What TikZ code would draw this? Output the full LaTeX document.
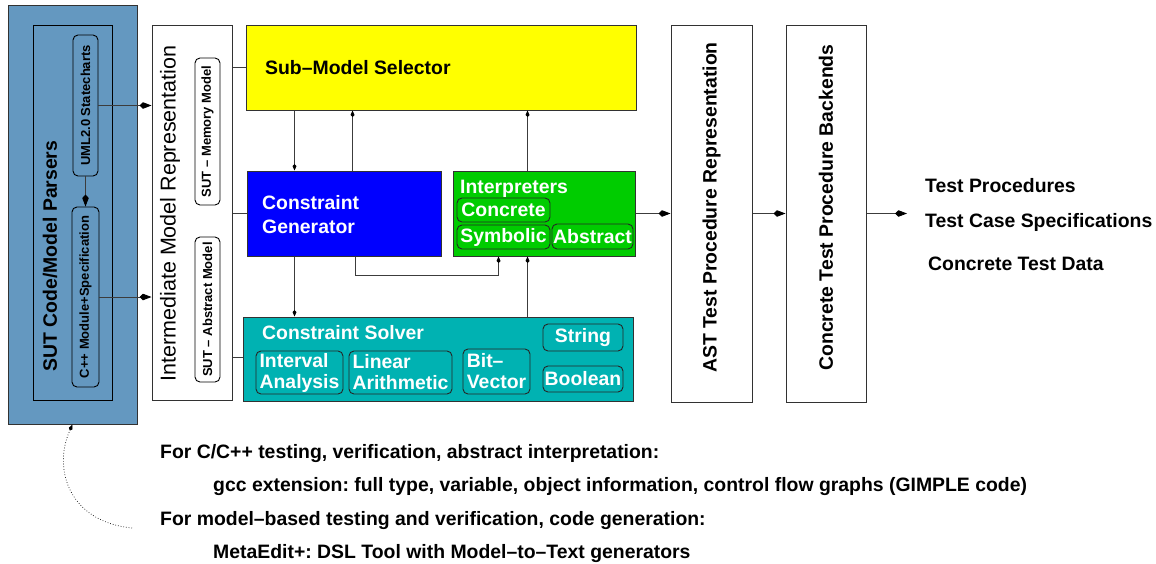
\documentclass[tikz,border=0pt]{standalone}
\usepackage{fontspec}
\setmainfont{Liberation Sans}
\usetikzlibrary{arrows.meta,calc}
\definecolor{parsblue}{RGB}{100,152,192}
\definecolor{selyellow}{RGB}{255,255,0}
\definecolor{genblue}{RGB}{0,0,255}
\definecolor{intgreen}{RGB}{0,204,0}
\definecolor{solteal}{RGB}{0,178,178}
\definecolor{edge}{RGB}{50,50,50}
\definecolor{conn}{RGB}{60,60,60}
\begin{document}
\frenchspacing
\begin{tikzpicture}[x=1pt,y=-1pt,
  font=\fontsize{19.4pt}{21pt}\selectfont\bfseries,
  box/.style={draw=edge, line width=1pt, inner sep=0pt, rectangle},
  sub/.style={draw=black!85, line width=0.9pt, rounded corners=5pt, inner sep=0pt, text=white, align=left},
  small/.style={draw=black, line width=0.9pt, rounded corners=5pt, inner sep=0pt, font=\fontsize{13pt}{14pt}\selectfont\bfseries},
  lbl/.style={anchor=west, inner sep=0pt, text height=13.9pt, text depth=0pt},
  wlbl/.style={lbl, text=white},
  vlbl/.style={rotate=90, inner sep=0pt, anchor=center},
  link/.style={draw=conn, line width=0.9pt},
  bigarr/.style={link, -{Kite[length=12pt,width=6.5pt,inset=3.5pt,color=black]}},
  smallarr/.style={link, -{Kite[length=6.5pt,width=4pt,inset=2pt,color=black]}}
]
\useasboundingbox (0,0) rectangle (1156,563);

% left parsers column
\node[box, fill=parsblue, minimum width=129pt, minimum height=419pt] (outer) at (72.5,214.5) {};
\node[draw=black, line width=0.9pt, inner sep=0pt, minimum width=79pt, minimum height=375pt] (inner) at (72.5,212.5) {};
\node[vlbl] (parstxt) at (50,256) {SUT Code/Model Parsers};
\node[small, minimum width=25pt, minimum height=141pt] (uml) at (85.5,105.5) {\rotatebox{90}{UML2.0 Statecharts}};
\node[small, minimum width=27pt, minimum height=180pt] (cpp) at (85.5,297) {\rotatebox{90}{C++ Module+Specification}};

% intermediate model representation
\node[box, fill=white, minimum width=80pt, minimum height=375pt] (imr) at (192,212.5) {};
\node[vlbl, font=\fontsize{21.5pt}{23pt}\selectfont] (imrtxt) at (170,213.5) {Intermediate Model Representation};
\node[small, minimum width=25pt, minimum height=147pt] (mem) at (207.5,131.5) {\rotatebox{90}{SUT -- Memory Model}};
\node[small, minimum width=25pt, minimum height=145pt] (abs) at (207.5,309.5) {\rotatebox{90}{SUT -- Abstract Model}};

% central boxes
\node[box, fill=selyellow, minimum width=390pt, minimum height=85pt] (sel) at (441,67.5) {};
\node[lbl] (seltxt) at (265,68) {Sub--Model Selector};

\node[box, fill=genblue, minimum width=194pt, minimum height=85pt] (gen) at (344,213.5) {};
\node[wlbl] (gent1) at (262,203) {Constraint};
\node[wlbl] (gent2) at (262,227) {Generator};

\node[box, fill=intgreen, minimum width=182pt, minimum height=85pt] (interp) at (544,213.5) {};
\node[wlbl] (intt) at (460,187) {Interpreters};
\node[sub, minimum width=93pt, minimum height=24pt] (conc) at (503.5,210) {Concrete};
\node[sub, minimum width=93pt, minimum height=24pt] (symb) at (503.5,237) {Symbolic};
\node[sub, minimum width=81pt, minimum height=25pt] (abst) at (592.5,236.5) {Abstract};

\node[box, fill=solteal, minimum width=390pt, minimum height=84pt] (solver) at (438,359) {};
\node[wlbl] (solt) at (262,333) {Constraint Solver};
\node[sub, minimum width=87pt, minimum height=43pt] (ival) at (299.5,372.5) {Interval\\Analysis};
\node[sub, minimum width=103pt, minimum height=43pt] (lin) at (400.5,372.5) {Linear\\Arithmetic};
\node[sub, minimum width=67pt, minimum height=45pt] (bitv) at (496.5,371.5) {Bit--\\Vector};
\node[sub, minimum width=80pt, minimum height=27pt] (str) at (583,337.5) {String};
\node[sub, minimum width=80pt, minimum height=26pt] (bool) at (583,379) {Boolean};

% right columns
\node[box, fill=white, minimum width=81pt, minimum height=377pt] (ast) at (711.5,213.5) {};
\node[vlbl] (asttxt) at (711.5,207.5) {AST Test Procedure Representation};
\node[box, fill=white, minimum width=80pt, minimum height=377pt] (cbe) at (826,213.5) {};
\node[vlbl] (cbetxt) at (826,207.5) {Concrete Test Procedure Backends};

\coordinate (outc) at (907,213.5);
\node[lbl] (o1) at (925,186) {Test Procedures};
\node[lbl] (o2) at (925,221) {Test Case Specifications};
\node[lbl] (o3) at (928,264) {Concrete Test Data};

% connectors
\draw[bigarr] (uml.south) -- (cpp.north);
\draw[bigarr] (uml.east) -- (uml.east -| imr.west);
\draw[bigarr] (cpp.east) -- (cpp.east -| imr.west);

\draw[link] (imr.east |- sel.west) -- (sel.west);
\draw[link] (imr.east |- gen.west) -- (gen.west);
\draw[link] ($(imr.east |- solver.west)+(0,-2)$) -- ($(solver.west)+(0,-2)$);

\draw[smallarr] ([xshift=48pt]gen.north west |- sel.south) -- ([xshift=48pt]gen.north west);
\draw[smallarr] ([xshift=106pt]gen.north west) -- ([xshift=106pt]gen.north west |- sel.south);
\draw[smallarr] ([xshift=75pt]interp.north west) -- ([xshift=75pt]interp.north west |- sel.south);
\draw[smallarr] ([xshift=48pt]gen.south west) -- ([xshift=48pt]gen.south west |- solver.north);
\draw[smallarr] ([xshift=109pt]gen.south west) -- ++(0,19) -| ([xshift=46pt]interp.south west);
\draw[smallarr] ([xshift=75pt]interp.south west |- solver.north) -- ([xshift=75pt]interp.south west);

\draw[bigarr] (interp.east) -- (interp.east -| ast.west);
\draw[bigarr] (ast.east) -- (cbe.west);
\draw[bigarr] (cbe.east) -- (outc);

% bottom notes
\node[lbl] (n1) at (160,451.5) {For C/C++ testing, verification, abstract interpretation:};
\node[lbl] (n2) at (213,485) {gcc extension: full type, variable, object information, control flow graphs (GIMPLE code)};
\node[lbl] (n3) at (160,519) {For model--based testing and verification, code generation:};
\node[lbl] (n4) at (213,551.5) {MetaEdit+: DSL Tool with Model--to--Text generators};

\coordinate (dotstart) at (132,528);
\draw[draw=black, line width=0.7pt, dotted, -{Kite[length=6.5pt,width=4pt,inset=2pt,color=black]}] (dotstart) .. controls (70,522) and (52,470) .. (outer.south);
\end{tikzpicture}
\end{document}
